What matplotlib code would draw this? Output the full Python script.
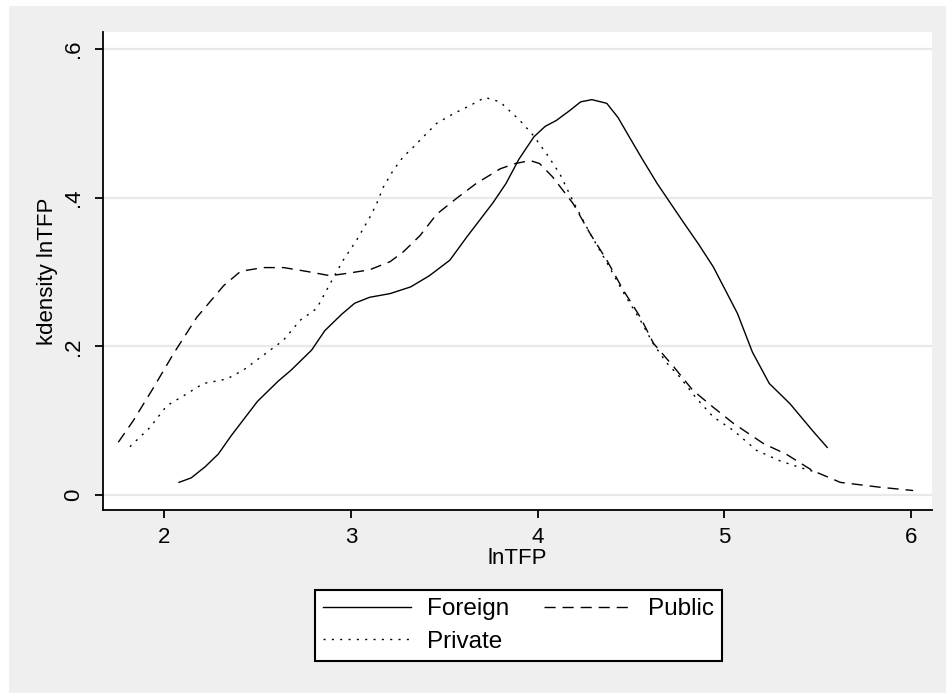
import matplotlib.pyplot as plt
from matplotlib.patches import Rectangle

plt.rcParams['font.family'] = ['Liberation Sans', 'DejaVu Sans']

# kdensity curves
foreign_x = [2.08, 2.145, 2.22, 2.29, 2.36, 2.43, 2.50, 2.61, 2.68, 2.79, 2.86, 2.95, 3.02, 3.10,
             3.21, 3.32, 3.42, 3.53, 3.62, 3.69, 3.76, 3.83, 3.90, 3.98, 4.04, 4.10, 4.17, 4.23,
             4.29, 4.37, 4.43, 4.49, 4.56, 4.64, 4.71, 4.78, 4.86, 4.94, 5.00, 5.07, 5.15, 5.24,
             5.35, 5.47, 5.55]
foreign_y = [.017, .023, .038, .055, .080, .103, .126, .153, .168, .195, .221, .243, .258, .266,
             .271, .280, .295, .316, .347, .370, .393, .419, .452, .482, .496, .504, .517, .529,
             .532, .527, .508, .482, .452, .419, .393, .367, .338, .307, .278, .244, .192, .150,
             .123, .087, .064]

public_x = [1.755, 1.835, 1.94, 2.05, 2.175, 2.32, 2.41, 2.53, 2.64, 2.76, 2.89, 3.00, 3.10, 3.21,
            3.28, 3.37, 3.46, 3.57, 3.67, 3.80, 3.88, 3.96, 4.01, 4.08, 4.19, 4.28, 4.37, 4.46,
            4.55, 4.62, 4.73, 4.83, 4.94, 5.05, 5.21, 5.33, 5.47, 5.62, 5.83, 6.01]
public_y = [.071, .100, .143, .190, .239, .282, .301, .306, .306, .301, .295, .299, .303, .314,
            .327, .349, .378, .400, .419, .439, .446, .450, .446, .428, .392, .352, .316, .275,
            .239, .204, .172, .141, .118, .096, .069, .055, .033, .017, .0105, .006]

private_x = [1.817, 1.925, 2.014, 2.121, 2.21, 2.335, 2.424, 2.531, 2.638, 2.728, 2.817, 2.888,
             2.959, 3.031, 3.102, 3.138, 3.173, 3.227, 3.28, 3.334, 3.388, 3.459, 3.548, 3.638,
             3.718, 3.798, 3.905, 3.976, 4.048, 4.119, 4.19, 4.28, 4.37, 4.46, 4.55, 4.62, 4.69,
             4.76, 4.85, 4.94, 5.047, 5.172, 5.297, 5.404, 5.50]
private_y = [.065, .091, .120, .136, .150, .156, .168, .188, .208, .235, .251, .284, .316, .343,
             .374, .392, .414, .437, .455, .468, .482, .500, .513, .524, .535, .529, .504, .484,
             .459, .432, .395, .352, .313, .272, .235, .203, .178, .159, .130, .105, .087, .060,
             .046, .037, .030]

x_ticks = [2, 3, 4, 5, 6]
y_ticks = [0, 0.2, 0.4, 0.6]
y_tick_labels = ['0', '.2', '.4', '.6']

W, H = 946, 693
fig = plt.figure(figsize=(W / 100, H / 100), dpi=100, facecolor='white')
# stata-style grey background
fig.patches.append(Rectangle((9 / W, 0), 1, 1 - 6 / H, transform=fig.transFigure,
                             facecolor='#efefef', edgecolor='none', zorder=-10))

ax = fig.add_axes([103 / W, 1 - 510 / H, (932 - 103) / W, (510 - 32) / H])
ax.set_facecolor('white')

l1, = ax.plot(foreign_x, foreign_y, color='black', lw=1.0, label='Foreign')
l2, = ax.plot(public_x, public_y, color='black', lw=1.0, dashes=(8, 5), label='Public')
l3, = ax.plot(private_x, private_y, color='black', lw=1.0, dashes=(1.5, 4.5), label='Private')

ax.set_xlim(1.673, 6.111)
ax.set_ylim(-0.0202, 0.623)
ax.set_xticks(x_ticks)
ax.set_yticks(y_ticks)
ax.set_yticklabels(y_tick_labels)
ax.grid(axis='y', color='#e8e8e8', linewidth=1.6)
ax.set_axisbelow(True)

for s in ['top', 'right']:
    ax.spines[s].set_visible(False)
for s in ['left', 'bottom']:
    ax.spines[s].set_linewidth(1.3)

ax.tick_params(axis='both', length=5.5, width=1.3, labelsize=16, pad=8)
ax.tick_params(axis='x', pad=7)
ax.tick_params(axis='y', labelrotation=90)
for t in ax.get_yticklabels():
    t.set_va('center')

ax.set_xlabel('lnTFP', fontsize=16, labelpad=0)
ax.set_ylabel('kdensity lnTFP', fontsize=16, labelpad=4)

leg = fig.legend(handles=[l1, l3, l2], loc='center',
                 bbox_to_anchor=(518.5 / W, 1 - 625.5 / H), ncol=2, fontsize=17.5,
                 frameon=True, fancybox=False, edgecolor='black', framealpha=1,
                 handlelength=3.6, handletextpad=0.66, columnspacing=1.45,
                 labelspacing=0.45, borderpad=0.35, borderaxespad=0)
leg.get_frame().set_linewidth(1.5)

fig.savefig('out.png', dpi=100, facecolor=fig.get_facecolor())
